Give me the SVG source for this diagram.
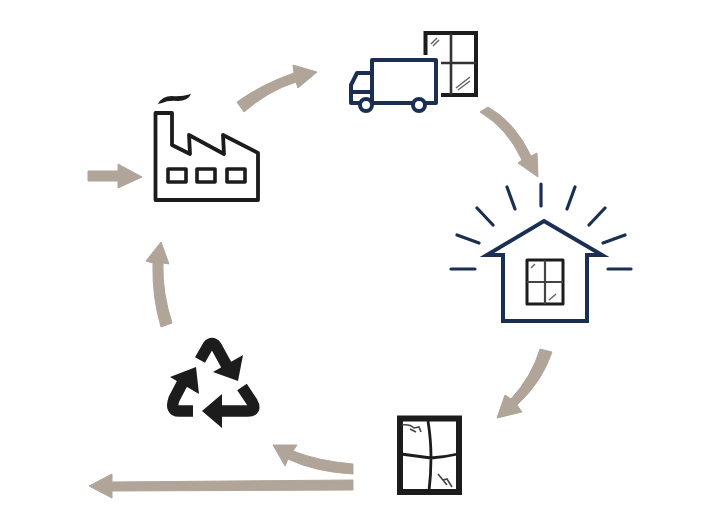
<svg xmlns="http://www.w3.org/2000/svg" width="720" height="528" viewBox="0 0 720 528">
<style>
.arrow{fill:#b0a598;stroke:#b0a598;stroke-width:1;stroke-linejoin:round}
.navy{fill:none;stroke:#1a2f52;stroke-width:4;stroke-linejoin:round}
.ray{fill:none;stroke:#1a2f52;stroke-width:3.2;stroke-linecap:round}
.blk{fill:none;stroke:#1c1c1c;stroke-linejoin:round}
.glint{fill:none;stroke:#666;stroke-width:1.5}
.rec{fill:none;stroke:#1c1c1c;stroke-width:11.500;stroke-linejoin:round}
</style>
<rect width="720" height="528" fill="#fff"/>
<g id="connectors">
<path class="arrow" d="M88 171H118V164L142 177L118 188V181H88Z"/>
<path class="arrow" d="M237 102Q262 84 294 73L293 65L317 72L298 88L296 82Q268 91 244 112Z"/>
<path class="arrow" d="M480 112Q507 128 522 160L518 163L538 177L537 153L531 156Q515 122 488 107Z"/>
<path class="arrow" d="M540 349Q532 376 511 399L505 395L497 418L522 412L517 405Q542 382 552 352Z"/>
<path class="arrow" d="M353 464Q318 461 293 451L297 445L273 445L285 466L288 459Q315 472 353 474Z"/>
<path class="arrow" d="M353 480L112 482V474L89 486L112 498V491L353 490Z"/>
<path class="arrow" d="M161 327Q152 297 153 263L146 261L161 242L169 264L163 263Q162 292 172 323Z"/>
</g>
<g id="factory">
<path class="blk" stroke-width="3.8" d="M155.500 113H172V145L190 154L189 135L224 154L223 135L258 153V200H155.500Z"/>
<path fill="#1c1c1c" d="M158 104Q162 96 172 96Q181 97 191 94Q188 101 178 101Q168 100 162 103Z"/>
<rect class="blk" stroke-width="3.6" x="168" y="169" width="18" height="13"/>
<rect class="blk" stroke-width="3.6" x="197" y="169" width="18" height="13"/>
<rect class="blk" stroke-width="3.6" x="227" y="169" width="18" height="13"/>
</g>
<g id="delivery">
<path fill="none" stroke="#1c1c1c" stroke-width="4" d="M425.500 55V33H476V95H441"/>
<path fill="none" stroke="#333" stroke-width="2.600" d="M451 33V95M441 63H476"/>
<path class="glint" d="M431 44L437 38M433 46L439 40M456 88L470 77M458 90L470 81"/>
<path class="navy" style="fill:#fff" d="M372 103V60H436V103H372"/>
<path class="navy" d="M372 73H357L351 85V103H360M351 92H372"/>
<circle class="navy" cx="366" cy="105" r="6" style="fill:#fff"/>
<circle class="navy" cx="419" cy="105" r="6" style="fill:#fff"/>
</g>
<g id="house">
<path class="ray" d="M541 184V206M507 187L515 209M477 208L493 225M457 235L479 243M451 269H475M575 187L567 209M605 208L589 225M625 235L603 243M608 269H631"/>
<path fill="none" stroke="#1a2f52" stroke-width="4" stroke-miterlimit="8" d="M503 255V321H587V255H602L544 221L487 255Z"/>
<rect class="blk" stroke-width="3" x="527" y="260" width="36" height="44"/>
<path fill="none" stroke="#444" stroke-width="2.200" d="M545 260V304M527 282H563"/>
<path class="glint" d="M531 268L535 264M549 300L556 294"/>
</g>
<g id="recycle">
<path class="rec" d="M200 360L208 346Q212 341 216 346L228 368"/>
<path fill="#1c1c1c" d="M243 355L238 381L213 372Z"/>
<path class="rec" d="M185 378L174 399Q170 411 179 411H193"/>
<path fill="#1c1c1c" d="M196 367L199 394L170 377Z"/>
<path class="rec" d="M242 387L252 402Q257 411 248 411H218"/>
<path fill="#1c1c1c" d="M202 411L222 394V428Z"/>
</g>
<g id="window-broken">
<rect fill="none" stroke="#1c1c1c" stroke-width="6" x="400" y="418.500" width="59" height="73.500"/>
<path fill="none" stroke="#1c1c1c" stroke-width="2.800" d="M428 421Q431 440 431 457Q431 475 429 491M401 454Q416 456 431 458Q445 457 458 454"/>
<path fill="none" stroke="#444" stroke-width="1.600" d="M402 425Q410 424 414 428L419 427L421 432M410 429L416 432M438 474L443 480L447 479L452 487M443 480L447 485"/>
</g>
</svg>
